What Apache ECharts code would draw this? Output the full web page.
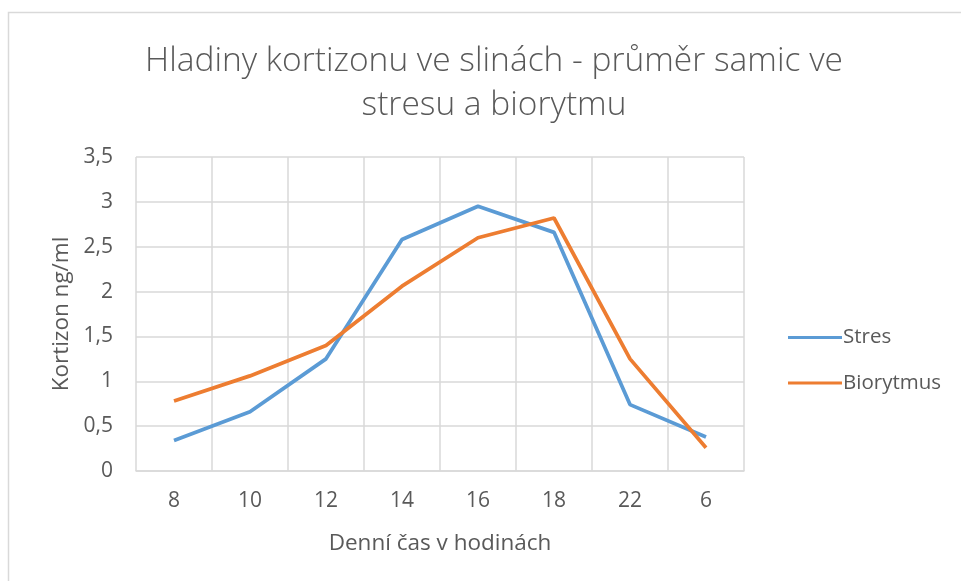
<!DOCTYPE html>
<html>
<head>
<meta charset="utf-8">
<script src="https://cdn.jsdelivr.net/npm/echarts@6/dist/echarts.min.js"></script>
<style>
html,body{margin:0;padding:0;background:#fff;}
#chart{width:961px;height:581px;}
</style>
</head>
<body>
<div id="chart"></div>
<script>
// data
const hours = ['8', '10', '12', '14', '16', '18', '22', '6'];
const stres = [0.34, 0.66, 1.25, 2.58, 2.95, 2.66, 0.74, 0.38];
const biorytmus = [0.78, 1.06, 1.40, 2.06, 2.60, 2.82, 1.25, 0.26];

const font = 'Open Sans';
const grey = '#595959';
const gridColor = '#d9d9d9';

let chart = echarts.init(document.getElementById('chart'));
chart.setOption({
    animation: false,
    backgroundColor: '#fff',
    textStyle: {fontFamily: font},
    title: {
        text: 'Hladiny kortizonu ve slinách - průměr samic ve\nstresu a biorytmu',
        left: 489,
        textAlign: 'center',
        top: 34,
        textStyle: {
            fontFamily: font,
            fontWeight: 300,
            fontSize: 33.5,
            lineHeight: 44,
            color: grey
        }
    },
    graphic: [{
        type: 'rect',
        shape: {x: 8.5, y: 12.5, width: 1000, height: 700},
        style: {fill: 'none', stroke: gridColor, lineWidth: 1.5},
        silent: true
    }],
    legend: {
        orient: 'vertical',
        left: 783,
        top: 322,
        itemGap: 24.5,
        itemWidth: 54,
        itemHeight: 3,
        icon: 'rect',
        textStyle: {fontFamily: font, fontSize: 20.5, color: grey, padding: [0, 0, 0, -4]},
        data: ['Stres', 'Biorytmus']
    },
    grid: {left: 136, right: 217, top: 157, bottom: 110},
    xAxis: {
        type: 'category',
        data: hours,
        boundaryGap: true,
        name: 'Denní čas v hodinách',
        nameLocation: 'middle',
        nameGap: 61,
        nameTextStyle: {fontFamily: font, fontSize: 22.5, color: grey},
        axisLine: {lineStyle: {color: gridColor, width: 1.5}},
        axisTick: {show: false},
        axisLabel: {fontFamily: font, fontSize: 21, color: grey, margin: 20},
        splitLine: {show: true, interval: 0, lineStyle: {color: gridColor, width: 1.5}}
    },
    yAxis: {
        type: 'value',
        min: 0,
        max: 3.5,
        interval: 0.5,
        name: 'Kortizon ng/ml',
        nameLocation: 'middle',
        nameGap: 63,
        nameTextStyle: {fontFamily: font, fontSize: 22.5, color: grey},
        axisLine: {show: false},
        axisTick: {show: false},
        axisLabel: {
            fontFamily: font, fontSize: 21, color: grey, margin: 23,
            formatter: v => String(v).replace('.', ',')
        },
        splitLine: {lineStyle: {color: gridColor, width: 1.5}}
    },
    series: [{
        name: 'Stres',
        type: 'line',
        data: stres,
        symbol: 'none',
        color: '#5B9BD5',
        lineStyle: {width: 3.75, color: '#5B9BD5'}
    }, {
        name: 'Biorytmus',
        type: 'line',
        data: biorytmus,
        symbol: 'none',
        color: '#ED7D31',
        lineStyle: {width: 3.75, color: '#ED7D31'}
    }]
});
</script>
</body>
</html>
